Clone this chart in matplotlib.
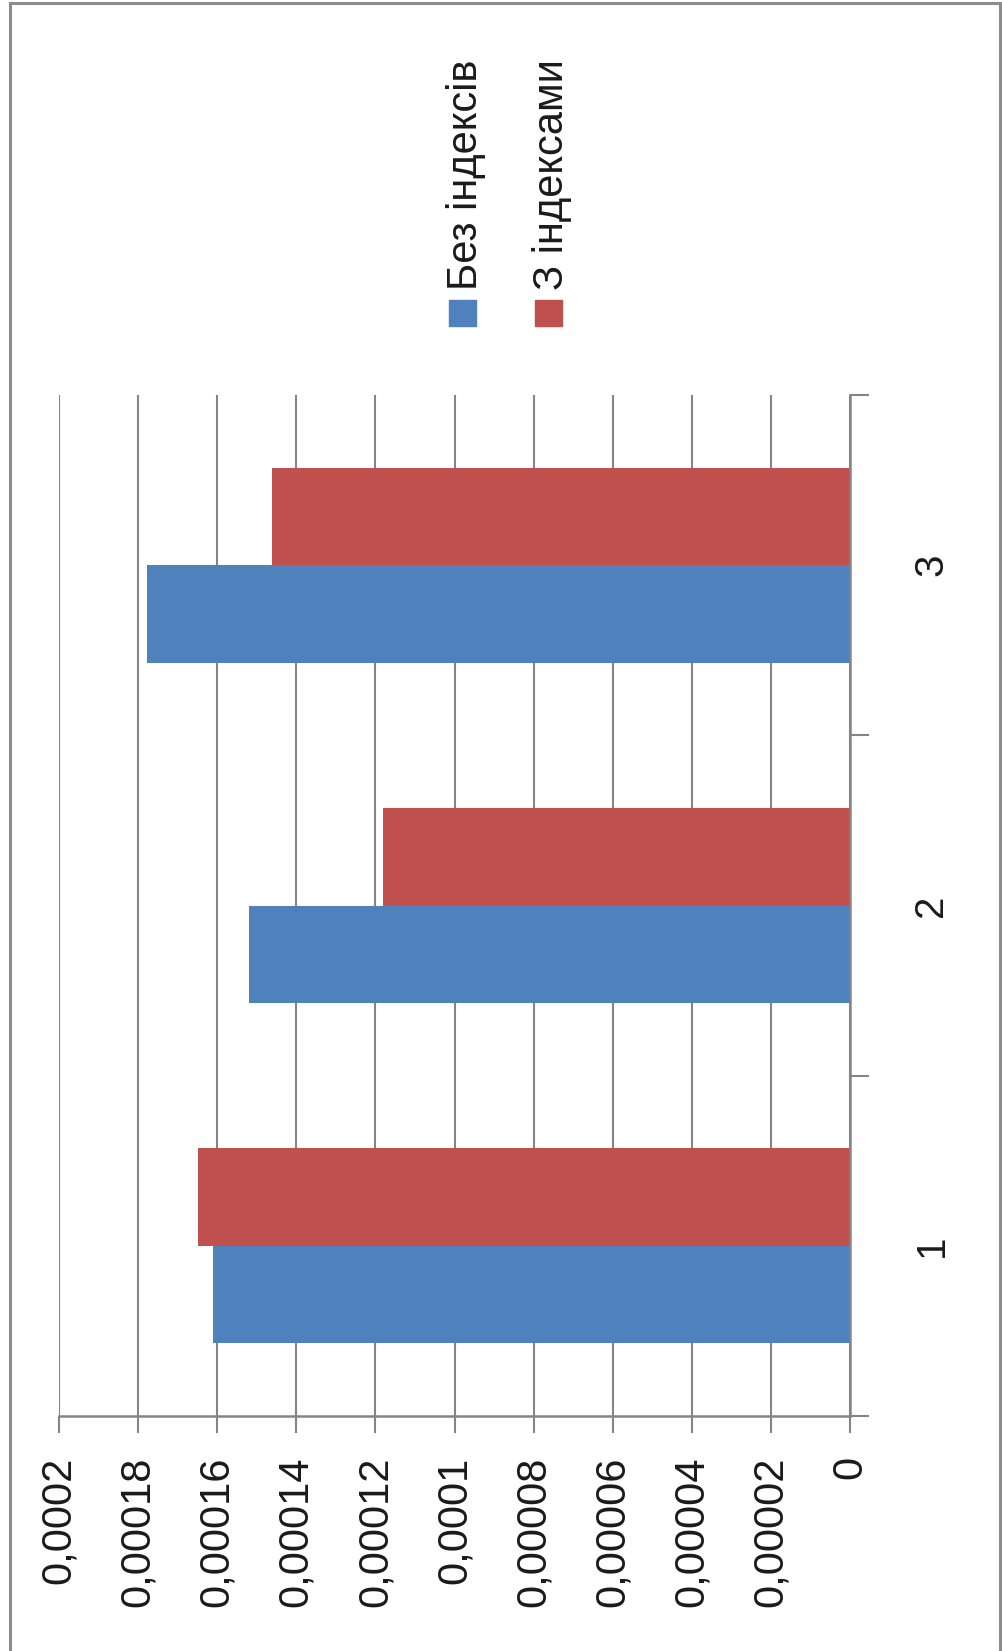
import numpy as np
import matplotlib.pyplot as plt
from matplotlib.patches import Rectangle

plt.rcParams['font.family'] = ['Liberation Sans', 'DejaVu Sans']

categories = ["1", "2", "3"]
series_names = ["Без індексів", "З індексами"]
no_index = [0.0001611, 0.0001519, 0.0001777]
with_index = [0.0001648, 0.0001180, 0.0001462]
value_ticks = [0, 0.00002, 0.00004, 0.00006, 0.00008, 0.0001,
               0.00012, 0.00014, 0.00016, 0.00018, 0.0002]
value_labels = ["0", "0,00002", "0,00004", "0,00006", "0,00008", "0,0001",
                "0,00012", "0,00014", "0,00016", "0,00018", "0,0002"]

BLUE = "#4f81bd"
RED = "#c0504d"
GRID = "#858585"
TEXT = "#1a1a1a"

W, H = 1002, 1651
fig = plt.figure(figsize=(W / 100, H / 100), dpi=100)

# outer chart frame
fig.add_artist(Rectangle((10 / W, -0.01), 990 / W, 1.01 - 3 / H,
                         transform=fig.transFigure, fill=False,
                         edgecolor="#8c8c8c", linewidth=2.2))

ax = fig.add_axes([59 / W, 1 - 1416 / H, (850 - 59) / W, (1416 - 395) / H])

# column chart turned on its side: values run right-to-left
y = np.arange(len(categories))
h = 0.286
ax.barh(y - h / 2, no_index, height=h, color=BLUE, zorder=2)
ax.barh(y + h / 2, with_index, height=h, color=RED, zorder=2)

ax.set_xlim(0.0002, 0)
ax.set_ylim(-0.5, len(categories) - 0.5)

ax.set_xticks(value_ticks, value_labels, rotation=90, fontsize=30, color=TEXT)
ax.tick_params(axis="x", length=12, width=1.5, color=GRID, pad=17)
ax.xaxis.grid(True, color=GRID, linewidth=1.5, zorder=0)
ax.set_axisbelow(True)

ax.yaxis.tick_right()
ax.set_yticks(np.arange(len(categories) + 1) - 0.5, [])
ax.set_yticks(y, categories, minor=True, rotation=90, va="center",
              fontsize=29, color=TEXT)
ax.tick_params(axis="y", which="major", length=14, width=1.5, color=GRID)
ax.tick_params(axis="y", which="minor", length=0, pad=45)

for side in ("top", "left"):
    ax.spines[side].set_visible(False)
for side in ("right", "bottom"):
    ax.spines[side].set_color(GRID)
    ax.spines[side].set_linewidth(1.8)

# legend, rotated with the rest of the chart
for x0, color, name in [(449, BLUE, series_names[0]), (535, RED, series_names[1])]:
    fig.add_artist(Rectangle((x0 / W, 1 - 326 / H), 27 / W, 26 / H,
                             transform=fig.transFigure, color=color))
    fig.text((x0 + 17) / W, 1 - 290 / H, name, rotation=90, ha="center",
             va="bottom", fontsize=30, color=TEXT)

fig.savefig("out.png", dpi=100)
